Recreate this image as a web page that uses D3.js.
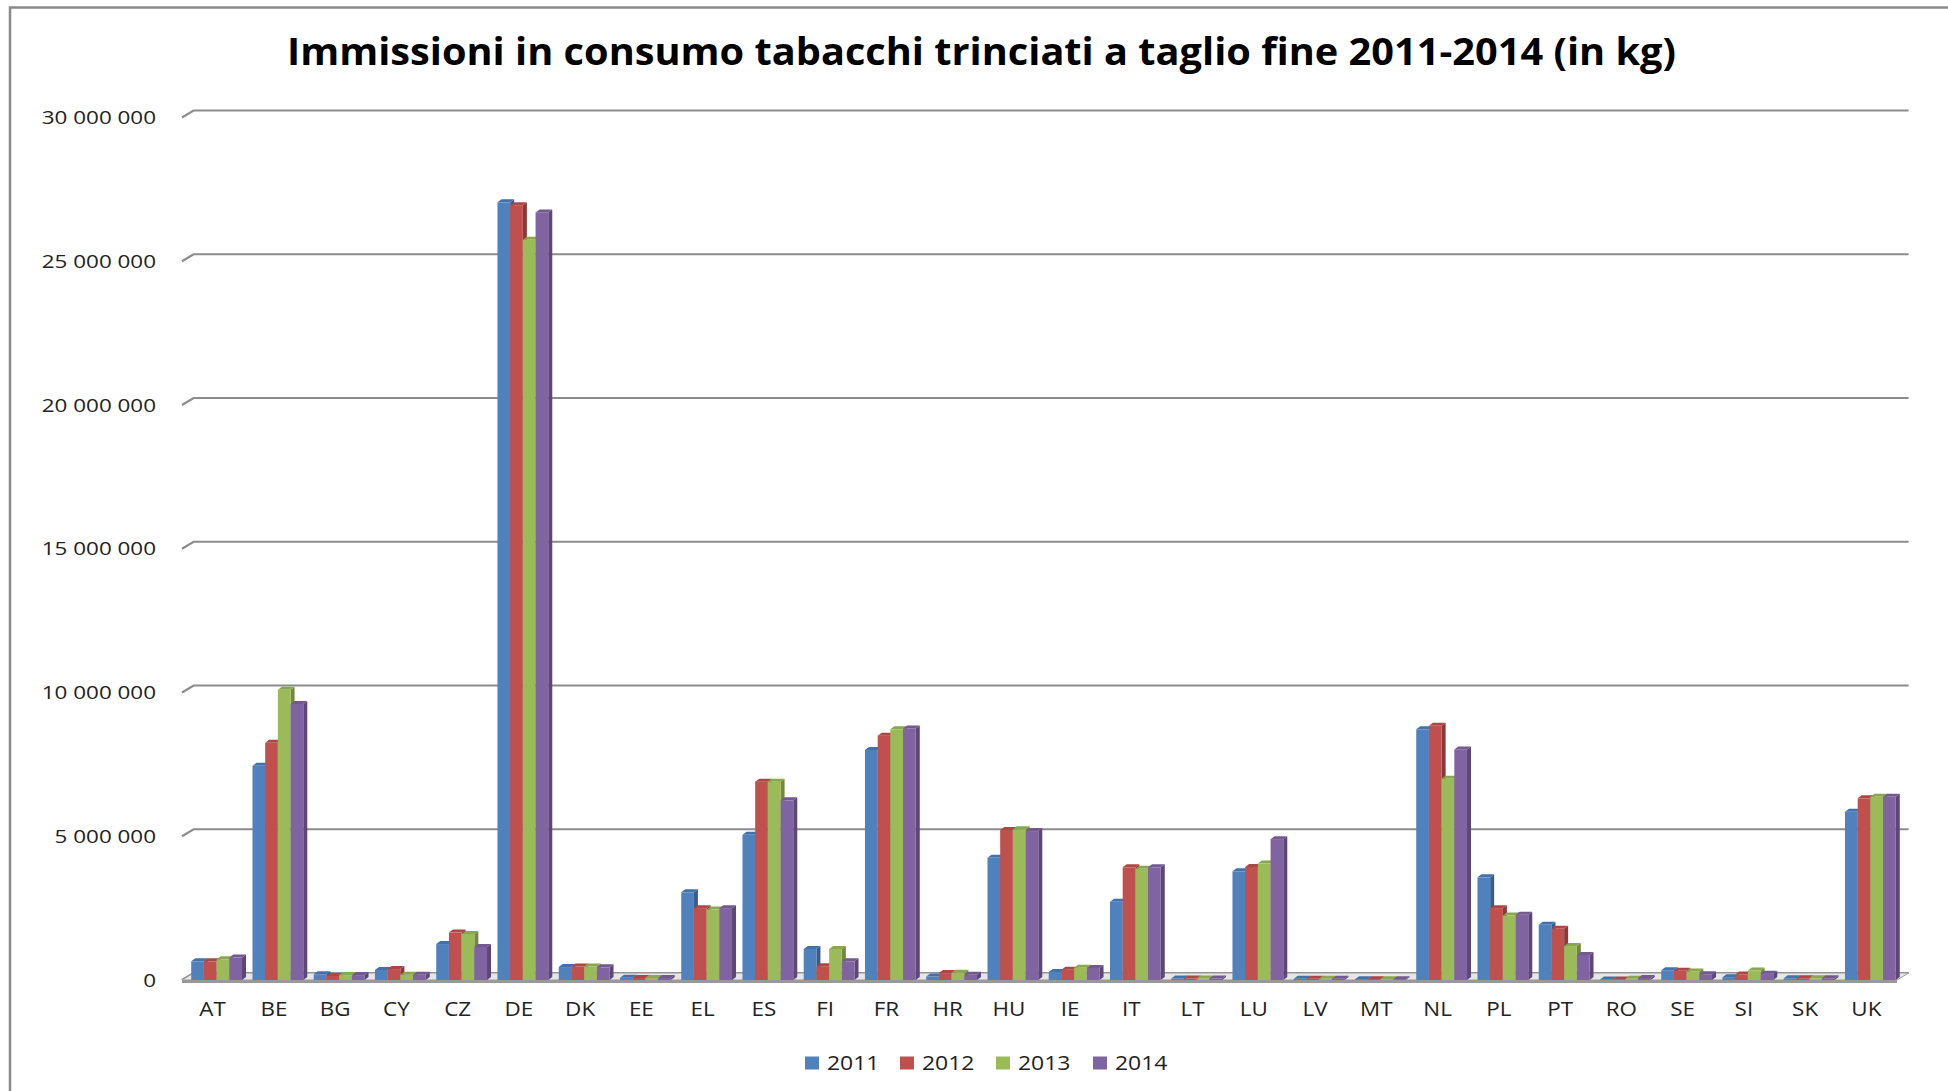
<!DOCTYPE html>
<html>
<head>
<meta charset="utf-8">
<script src="https://cdn.jsdelivr.net/npm/d3@7"></script>
<style>
  html, body { margin: 0; padding: 0; background: #fff; }
  svg { display: block; }
  text { font-family: "Open Sans", "Noto Sans", sans-serif; fill: #222; }
</style>
</head>
<body>
<svg id="chart" width="1948" height="1091"></svg>
<script>
// Paesi (codici UE)
const countries = ["AT","BE","BG","CY","CZ","DE","DK","EE","EL","ES","FI","FR","HR","HU",
                   "IE","IT","LT","LU","LV","MT","NL","PL","PT","RO","SE","SI","SK","UK"];

// Anni della serie
const years = ["2011","2012","2013","2014"];

// Immissioni in consumo (kg) per anno
const kg2011 = [650000, 7450000, 200000, 350000, 1250000, 27050000, 450000, 80000, 3050000, 5050000,
                1080000, 8000000, 120000, 4250000, 280000, 2720000, 50000, 3780000, 40000, 30000,
                8720000, 3570000, 1920000, 20000, 340000, 100000, 60000, 5850000];
const kg2012 = [650000, 8250000, 140000, 380000, 1650000, 26950000, 470000, 70000, 2500000, 6900000,
                480000, 8500000, 240000, 5220000, 360000, 3920000, 50000, 3930000, 40000, 30000,
                8840000, 2500000, 1780000, 20000, 320000, 190000, 60000, 6320000];
const kg2013 = [720000, 10100000, 170000, 180000, 1600000, 25750000, 470000, 70000, 2450000, 6900000,
                1080000, 8720000, 250000, 5240000, 430000, 3870000, 50000, 4050000, 40000, 30000,
                7000000, 2240000, 1180000, 40000, 300000, 330000, 60000, 6370000];
const kg2014 = [780000, 9600000, 170000, 180000, 1150000, 26700000, 440000, 70000, 2500000, 6250000,
                650000, 8750000, 180000, 5180000, 420000, 3920000, 50000, 4900000, 40000, 30000,
                8020000, 2270000, 870000, 70000, 200000, 220000, 60000, 6370000];

// Valori dell'asse verticale
const yTicks = [0, 5000000, 10000000, 15000000, 20000000, 25000000, 30000000];

const title = "Immissioni in consumo tabacchi trinciati a taglio fine 2011-2014 (in kg)";

const series = [kg2011, kg2012, kg2013, kg2014];
const faceColors = ["#4f81bd", "#c0504d", "#9bbb59", "#8064a2"];
const sideColors = ["#385d8a", "#8c3836", "#71893f", "#5c4776"];
const topColors  = ["#4272ab", "#ab4744", "#89a74e", "#72598f"];

const svg = d3.select("#chart");
svg.append("rect").attr("width", 1948).attr("height", 1091).attr("fill", "#fff");

// Cornice del grafico
svg.append("path")
  .attr("d", "M10,1091 L10,7.5 L1948,7.5")
  .attr("fill", "none").attr("stroke", "#8a8a8a").attr("stroke-width", 2.5);

// Geometria: piano frontale e parete di fondo (profondità 3D)
const left = 182, right = 1897, base = 980;
const depthX = 11.6, depthY = 7;      // spostamento della parete di fondo
const barDX = 4, barDY = 3;           // profondità delle colonne

const y = d3.scaleLinear().domain([0, 30000000]).range([base, 117.5]);
const x = d3.scaleBand().domain(countries).range([left, right]).padding(0);
const groupW = 50.8;
const xs = d3.scaleBand().domain(years).range([0, groupW]).padding(0);
const groupShift = (x.bandwidth() - groupW) / 2 + 4;

const fmt = d3.formatLocale({ thousands: " ", grouping: [3], decimal: ",", currency: ["", ""] }).format(",");

// Griglia sulla parete di fondo con raccordo obliquo a sinistra
const grid = svg.append("g");
yTicks.forEach(v => {
  const yf = y(v), yb = yf - depthY;
  grid.append("path")
    .attr("d", `M${left},${yf} L${left + depthX},${yb} L${right + depthX},${yb}`)
    .attr("fill", "none").attr("stroke", "#8c8c8c").attr("stroke-width", 2.2);
});

// Pavimento
svg.append("path")
  .attr("d", `M${left},${base} L${left + depthX},${base - depthY} L${right + depthX},${base - depthY} L${right},${base} Z`)
  .attr("fill", "#e6e6e6").attr("stroke", "#9a9a9a").attr("stroke-width", 1);
svg.append("line")
  .attr("x1", left).attr("x2", right).attr("y1", base + 1.5).attr("y2", base + 1.5)
  .attr("stroke", "#999").attr("stroke-width", 3);

// Etichette dell'asse verticale
const yLab = svg.append("g");
yTicks.forEach(v => {
  const t = yLab.append("text")
    .attr("x", 156).attr("y", y(v)).attr("dy", "0.35em")
    .attr("text-anchor", "end").attr("font-size", 19)
    .text(fmt(v));
  const w = t.node().getComputedTextLength();
  t.attr("textLength", w * 1.18).attr("lengthAdjust", "spacingAndGlyphs");
});

// Colonne 3D
const bars = svg.append("g");
countries.forEach((c, i) => {
  series.forEach((s, k) => {
    const x0 = x(c) + groupShift + xs(years[k]);
    const w = xs.bandwidth();
    const yt = y(s[i]);
    const g = bars.append("g");
    // fianco destro
    g.append("path")
      .attr("d", `M${x0 + w},${yt} L${x0 + w + barDX},${yt - barDY} L${x0 + w + barDX},${base - barDY} L${x0 + w},${base} Z`)
      .attr("fill", sideColors[k]);
    // faccia superiore
    g.append("path")
      .attr("d", `M${x0},${yt} L${x0 + barDX},${yt - barDY} L${x0 + w + barDX},${yt - barDY} L${x0 + w},${yt} Z`)
      .attr("fill", topColors[k]);
    // faccia frontale
    g.append("rect")
      .attr("x", x0).attr("y", yt).attr("width", w).attr("height", base - yt)
      .attr("fill", faceColors[k]);
  });
});

// Etichette dei paesi
const xLab = svg.append("g");
countries.forEach(c => {
  const t = xLab.append("text")
    .attr("x", x(c) + x.bandwidth() / 2).attr("y", 1016)
    .attr("text-anchor", "middle").attr("font-size", 20)
    .text(c);
  const w = t.node().getComputedTextLength();
  t.attr("textLength", w * 1.12).attr("lengthAdjust", "spacingAndGlyphs");
});

// Titolo
svg.append("text")
  .attr("x", 287).attr("y", 65)
  .attr("font-size", 37).attr("font-weight", 700)
  .attr("textLength", 1389).attr("lengthAdjust", "spacingAndGlyphs")
  .style("fill", "#000")
  .text(title);

// Legenda
const legendX = [805, 900, 996, 1093];
const legend = svg.append("g");
years.forEach((yr, k) => {
  legend.append("rect")
    .attr("x", legendX[k]).attr("y", 1056.5).attr("width", 14).attr("height", 13)
    .attr("fill", faceColors[k]);
  const t = legend.append("text")
    .attr("x", legendX[k] + 22).attr("y", 1069.5)
    .attr("font-size", 20)
    .text(yr);
  t.attr("textLength", 52.5).attr("lengthAdjust", "spacingAndGlyphs");
});
</script>
</body>
</html>
